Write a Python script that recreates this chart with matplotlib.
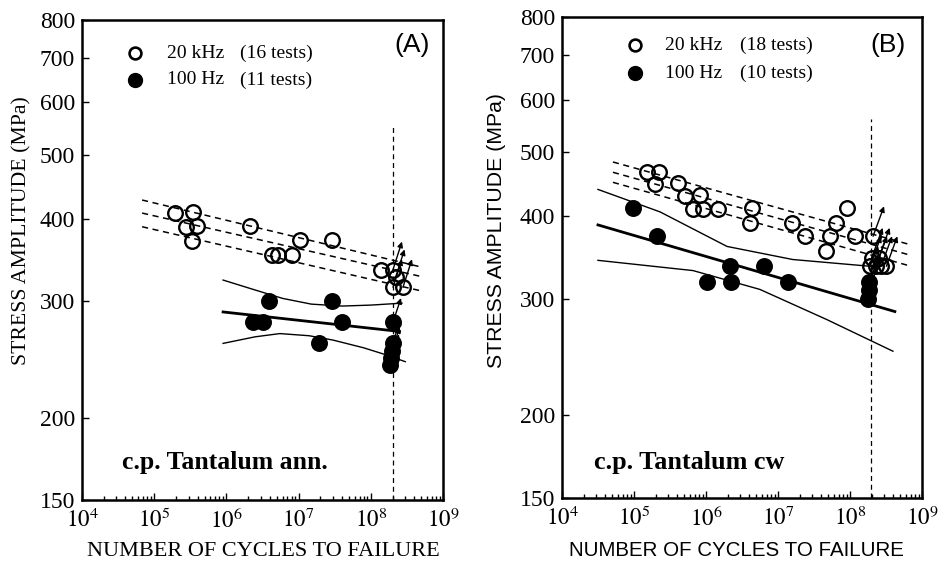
import math
import matplotlib
matplotlib.use("Agg")
import matplotlib.pyplot as plt
from matplotlib.ticker import FixedLocator, NullLocator, LogLocator, FuncFormatter, NullFormatter
from matplotlib.transforms import offset_copy

plt.rcParams['font.family'] = ['Liberation Serif', 'DejaVu Serif']
plt.rcParams['mathtext.fontset'] = 'stix'

# ---------------- data ----------------
y_ticks = [150, 200, 300, 400, 500, 600, 700, 800]
x_decades = [4, 5, 6, 7, 8, 9]

# Panel A : c.p. Tantalum annealed
a_open_N = [1.94e5, 3.45e5, 2.76e5, 3.92e5, 3.34e5, 2.12e6, 1.04e7, 2.9e7,
            4.28e6, 5.18e6, 8.1e6, 1.38e8]
a_open_S = [408, 409, 389, 390, 370, 390, 371, 371,
            352, 352, 352, 335]
a_open_run_N = [2.03e8, 2.2e8, 2.03e8, 2.79e8]
a_open_run_S = [335, 326, 315, 315]
a_fill_N = [3.89e6, 2.9e7, 2.34e6, 3.21e6, 3.99e7, 1.92e7]
a_fill_S = [300, 300, 279, 279, 279, 259]
a_fill_run_N = [2.03e8, 2.0e8, 1.95e8, 1.9e8, 1.85e8]
a_fill_run_S = [279, 259, 252, 246, 240]

a_dash_up_N, a_dash_up_S = [6.8e4, 5.0e8], [427, 338]
a_dash_mid_N, a_dash_mid_S = [6.8e4, 5.0e8], [408, 327]
a_dash_lo_N, a_dash_lo_S = [6.8e4, 5.0e8], [389, 311]
a_mean_N, a_mean_S = [9e5, 2.5e8], [289, 270]
a_up_N = [9e5, 2.5e6, 6e6, 1.5e7, 4e7, 1e8, 2.7e8]
a_up_S = [323, 312, 303, 297, 295, 296, 298]
a_lo_N = [9e5, 2.5e6, 5.5e6, 1.4e7, 3e7, 8e7, 1.6e8, 3e8]
a_lo_S = [259, 265, 268, 266, 262, 255, 249, 243]
a_runout_N = 2.0e8
a_runout_top = 555

# Panel B : c.p. Tantalum cold worked
b_open_N = [1.52e5, 2.22e5, 1.96e5, 4.08e5, 5.11e5, 8.26e5, 6.6e5, 9.1e5, 1.47e6,
            4.35e6, 4.08e6, 1.56e7, 2.37e7, 6.39e7, 9.09e7, 5.28e7, 4.64e7, 1.17e8]
b_open_S = [466, 466, 447, 449, 429, 430, 410, 410, 410,
            411, 391, 391, 373, 391, 411, 373, 354, 373]
b_open_run_N = [2.09e8, 1.9e8, 2.3e8, 2.7e8, 3.2e8, 2.0e8, 2.5e8]
b_open_run_S = [373, 336, 336, 336, 336, 346, 346]
b_fill_N = [9.7e4, 2.09e5, 2.15e6, 6.39e6, 1.03e6, 2.22e6, 1.38e7]
b_fill_S = [411, 373, 336, 336, 318, 318, 318]
b_fill_run_N = [1.84e8, 1.82e8, 1.8e8]
b_fill_run_S = [318, 309, 300]

b_dash_up_N, b_dash_up_S = [5.1e4, 6.4e8], [483, 363]
b_dash_mid_N, b_dash_mid_S = [5.1e4, 6.4e8], [466, 350]
b_dash_lo_N, b_dash_lo_S = [5.1e4, 6.4e8], [450, 337]
b_mean_N, b_mean_S = [3.16e4, 4.2e8], [388, 287]
b_up_N = [3.16e4, 2.3e5, 1.96e6, 1.6e7, 1.9e8]
b_up_S = [439, 406, 360, 344, 336]
b_lo_N = [3.16e4, 6.6e5, 5.6e6, 4.8e7, 3.95e8]
b_lo_S = [343, 331, 310, 279, 250]
b_runout_N = 1.96e8
b_runout_top = 561

# ---------------- figure ----------------
fig = plt.figure(figsize=(9.46, 5.68), dpi=100)
W, H = 946.0, 568.0

def px_axes(l, t, r, b):
    return fig.add_axes([l / W, 1 - b / H, (r - l) / W, (b - t) / H])

axA = px_axes(82, 20, 443, 500)
axB = px_axes(562, 17, 922, 498)

MS = 10.5
MEW = 1.7

def style(ax):
    ax.set_xscale('log')
    ax.set_yscale('log')
    ax.set_xlim(1e4, 1e9)
    ax.set_ylim(150, 800)
    ax.yaxis.set_major_locator(FixedLocator(y_ticks))
    ax.yaxis.set_minor_locator(NullLocator())
    ax.yaxis.set_major_formatter(FuncFormatter(lambda v, p: f"{int(round(v))}"))
    ax.yaxis.set_minor_formatter(NullFormatter())
    ax.xaxis.set_major_locator(FixedLocator([10.0 ** k for k in x_decades]))
    ax.xaxis.set_major_formatter(FuncFormatter(lambda v, p: r"$10^{%d}$" % round(math.log10(v))))
    ax.xaxis.set_minor_locator(LogLocator(base=10, subs=range(2, 10), numticks=20))
    ax.xaxis.set_minor_formatter(NullFormatter())
    ax.tick_params(axis='both', which='both', direction='in', top=False, right=False,
                   width=1.0, colors='black')
    ax.tick_params(axis='y', which='major', labelsize=17, length=5, pad=5)
    ax.tick_params(axis='x', which='major', labelsize=16.5, length=5, pad=6)
    ax.tick_params(axis='x', which='minor', length=3)
    for s in ax.spines.values():
        s.set_linewidth(1.8)

def arrows(ax, Ns, Ss, dx, dy, lw=1.0):
    tip = offset_copy(ax.transData, fig=fig, x=dx, y=dy, units='dots')
    for n, s in zip(Ns, Ss):
        ax.annotate("", xy=(n, s), xycoords=tip, xytext=(n, s), textcoords=ax.transData,
                    arrowprops=dict(arrowstyle='-|>', lw=lw, color='black',
                                    mutation_scale=8, shrinkA=0, shrinkB=0), zorder=4)

def panel(ax, d):
    style(ax)
    for (n, s) in d['dash']:
        ax.plot(n, s, ls=(0, (4, 3)), color='black', lw=1.1, zorder=2)
    ax.plot(d['mean'][0], d['mean'][1], color='black', lw=2.0, zorder=2)
    for (n, s) in d['band']:
        ax.plot(n, s, color='black', lw=1.0, zorder=2)
    ax.plot([d['run'], d['run']], [150, d['runtop']], ls=(0, (4, 3)), color='black', lw=0.9, zorder=1)
    arrows(ax, d['orun'][0], d['orun'][1], d['odx'], d['ody'])
    arrows(ax, d['frun'][0], d['frun'][1], d['fdx'], d['fdy'])
    ax.plot(d['open'][0] + d['orun'][0], d['open'][1] + d['orun'][1], 'o', ms=MS, mfc='none',
            mec='black', mew=MEW, zorder=3)
    ax.plot(d['fill'][0] + d['frun'][0], d['fill'][1] + d['frun'][1], 'o', ms=MS, mfc='black',
            mec='black', mew=MEW, zorder=3)

panel(axA, dict(
    dash=[(a_dash_up_N, a_dash_up_S), (a_dash_mid_N, a_dash_mid_S), (a_dash_lo_N, a_dash_lo_S)],
    mean=(a_mean_N, a_mean_S), band=[(a_up_N, a_up_S), (a_lo_N, a_lo_S)],
    run=a_runout_N, runtop=a_runout_top,
    open=(a_open_N, a_open_S), orun=(a_open_run_N, a_open_run_S),
    fill=(a_fill_N, a_fill_S), frun=(a_fill_run_N, a_fill_run_S),
    odx=9, ody=28, fdx=8, fdy=24))

panel(axB, dict(
    dash=[(b_dash_up_N, b_dash_up_S), (b_dash_mid_N, b_dash_mid_S), (b_dash_lo_N, b_dash_lo_S)],
    mean=(b_mean_N, b_mean_S), band=[(b_up_N, b_up_S), (b_lo_N, b_lo_S)],
    run=b_runout_N, runtop=b_runout_top,
    open=(b_open_N, b_open_S), orun=(b_open_run_N, b_open_run_S),
    fill=(b_fill_N, b_fill_S), frun=(b_fill_run_N, b_fill_run_S),
    odx=11, ody=30, fdx=9, fdy=36))

# ---------------- texts ----------------
def ftext(x, y, s, **kw):
    fig.text(x / W, 1 - y / H, s, **kw)

serif = ['Liberation Serif', 'DejaVu Serif']
sans = ['Liberation Sans', 'DejaVu Sans']

# legends
for (mx, tx, t2, y1, y2, n1, n2) in [(135, 167, 240, 53, 80, 16, 11), (635, 665, 740, 45, 73, 18, 10)]:
    fig.lines.append(plt.Line2D([mx / W], [1 - y1 / H], marker='o', ms=8.5, mfc='none', mec='black',
                                mew=1.9, transform=fig.transFigure))
    fig.lines.append(plt.Line2D([mx / W], [1 - y2 / H], marker='o', ms=10, mfc='black', mec='black',
                                transform=fig.transFigure))
    ftext(tx, y1, "20 kHz", family=serif, fontsize=14, va='center', ha='left')
    ftext(t2, y1, f"({n1} tests)", family=serif, fontsize=14, va='center', ha='left')
    ftext(tx, y2, "100 Hz", family=serif, fontsize=14, va='center', ha='left')
    ftext(t2, y2, f"({n2} tests)", family=serif, fontsize=14, va='center', ha='left')

ftext(412, 45, "(A)", family=sans, fontsize=19, ha='center', va='center')
ftext(888, 45, "(B)", family=sans, fontsize=19, ha='center', va='center')

ftext(225, 462, "c.p. Tantalum ann.", family=serif, fontsize=18.5, fontweight='bold', ha='center', va='center')
ftext(689, 462, "c.p. Tantalum cw", family=serif, fontsize=18.8, fontweight='bold', ha='center', va='center')

ftext(22, 231, "STRESS AMPLITUDE (MPa)", family=serif, fontsize=15.7, rotation=90, ha='center', va='center')
ftext(497, 230, "STRESS AMPLITUDE (MPa)", family=sans, fontsize=15.3, rotation=90, ha='center', va='center')
ftext(263, 551, "NUMBER OF CYCLES TO FAILURE", family=serif, fontsize=16, ha='center', va='center')
ftext(736, 551, "NUMBER OF CYCLES TO FAILURE", family=sans, fontsize=14.8, ha='center', va='center')

fig.savefig("out.png", dpi=100)
